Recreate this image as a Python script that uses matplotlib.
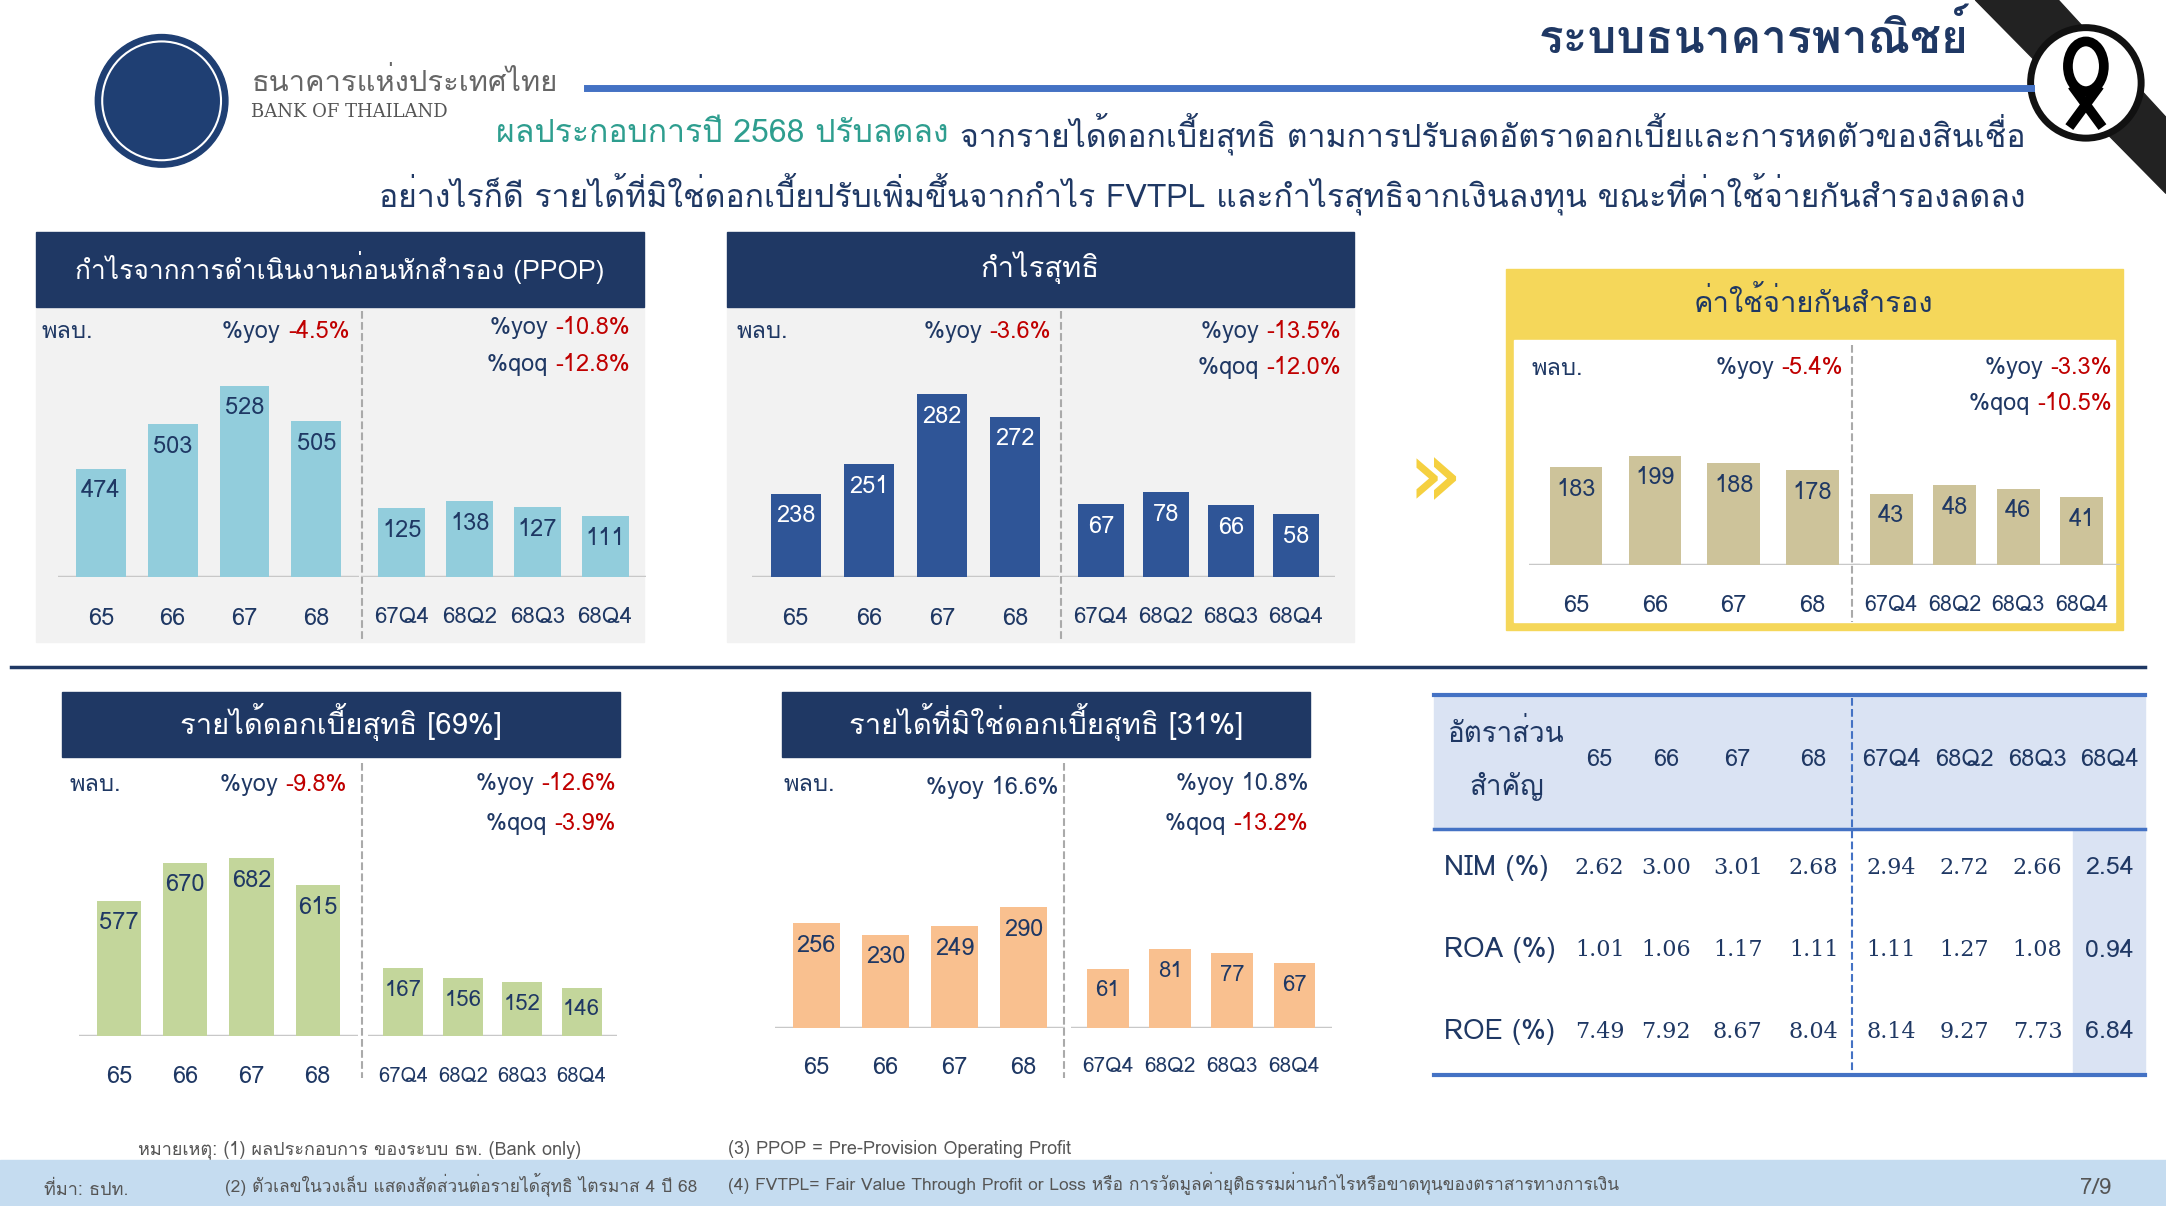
import matplotlib
matplotlib.use("Agg")
import matplotlib.pyplot as plt
from matplotlib import font_manager as fm
from matplotlib.patches import Rectangle, Circle, Polygon, Ellipse

thai = [f.name for f in fm.fontManager.ttflist if 'Thai' in f.name or 'Loma' in f.name or 'Garuda' in f.name or 'Sarabun' in f.name]
fams = (thai[:1] if thai else []) + ['Noto Sans', 'DejaVu Sans']
plt.rcParams['font.family'] = fams

W, H = 1568, 873
NAVY = '#1f3864'
RED = '#c00000'

# ---------------- data ----------------
years = ['65', '66', '67', '68']
quarters = ['67Q4', '68Q2', '68Q3', '68Q4']
ppop_y = [474, 503, 528, 505]; ppop_q = [125, 138, 127, 111]
np_y = [238, 251, 282, 272]; np_q = [67, 78, 66, 58]
prov_y = [183, 199, 188, 178]; prov_q = [43, 48, 46, 41]
nii_y = [577, 670, 682, 615]; nii_q = [167, 156, 152, 146]
non_y = [256, 230, 249, 290]; non_q = [61, 81, 77, 67]
ratio_names = ['NIM (%)', 'ROA (%)', 'ROE (%)']
ratio_cols = years + quarters
nim = [2.62, 3.00, 3.01, 2.68, 2.94, 2.72, 2.66, 2.54]
roa = [1.01, 1.06, 1.17, 1.11, 1.11, 1.27, 1.08, 0.94]
roe = [7.49, 7.92, 8.67, 8.04, 8.14, 9.27, 7.73, 6.84]

fig = plt.figure(figsize=(21.66, 12.06), dpi=100)
bg = fig.add_axes([0, 0, 1, 1]); bg.set_xlim(0, W); bg.set_ylim(H, 0); bg.axis('off')

def rect(x, y, w, h, **kw):
    bg.add_patch(Rectangle((x, y), w, h, **kw))

def txt(x, y, s, **kw):
    kw.setdefault('color', NAVY); kw.setdefault('va', 'center')
    bg.text(x, y, s, **kw)

def pxax(x, y, w, h):
    a = fig.add_axes([x / W, 1 - (y + h) / H, w / W, h / H])
    a.axis('off'); a.patch.set_alpha(0)
    return a

def bars(x0, spacing, width_px, base_y, top_y, vals, cats, lo, scale, color, tcolor, lab_y, fs=17, lfs=17):
    n = len(vals)
    w = spacing * (n + 0.2)
    a = pxax(x0 - 0.6 * spacing, top_y, w, base_y - top_y)
    a.set_xlim(-0.6, n - 0.4)
    hi = lo + (base_y - top_y) / scale
    a.set_ylim(lo, hi)
    a.bar(range(n), [v - lo for v in vals], bottom=lo, width=width_px / spacing, color=color, zorder=2)
    a.axhline(lo, color='#c8c8c8', lw=2.5, zorder=1)
    for i, v in enumerate(vals):
        a.text(i, v - 16 / scale, str(v), ha='center', va='center', color=tcolor, fontsize=fs)
    for i, c in enumerate(cats):
        txt(x0 + i * spacing, lab_y, c, ha='center', fontsize=lfs)

def rich(xr, y, parts, fs):
    r = fig.canvas.get_renderer()
    x = xr
    for s, c in reversed(parts):
        t = bg.text(x, y, s, ha='right', va='center', color=c, fontsize=fs)
        bb = t.get_window_extent(r)
        x -= bb.width * W / fig.bbox.width

def yoy2(xr, y, label, val):
    rich(xr, y, [(label + ' ', NAVY), (val, RED)], 17)

# ---------------- top ----------------
bg.add_patch(Circle((117, 73), 48, color='#1f3f73'))
bg.add_patch(Circle((117, 73), 43, fill=False, ec='white', lw=1.5))
txt(182, 60, 'ธนาคารแห่งประเทศไทย', fontsize=21, color='#666666')
txt(182, 81, 'BANK OF THAILAND', fontsize=13, color='#555555', family='DejaVu Serif')
bg.plot([425, 1470], [64, 64], color='#4472c4', lw=5)
txt(1425, 26, 'ระบบธนาคารพาณิชย์', ha='right', fontsize=33, fontweight='bold')
bg.add_patch(Polygon([[1430, 0], [1490, 0], [1568, 85], [1568, 140]], color='#222222'))
bg.add_patch(Circle((1510, 60), 40, color='white', ec='#111111', lw=5))
bg.add_patch(Ellipse((1510, 48), 26, 36, fill=False, ec='black', lw=7))
bg.plot([1500, 1522], [62, 92], color='black', lw=7, solid_capstyle='butt')
bg.plot([1520, 1498], [62, 92], color='black', lw=7, solid_capstyle='butt')
rich(1466, 97, [('ผลประกอบการปี 2568 ปรับลดลง ', '#2e9e8f'), ('จากรายได้ดอกเบี้ยสุทธิ ตามการปรับลดอัตราดอกเบี้ยและการหดตัวของสินเชื่อ', NAVY)], 23)
txt(1466, 140, 'อย่างไรก็ดี รายได้ที่มิใช่ดอกเบี้ยปรับเพิ่มขึ้นจากกำไร FVTPL และกำไรสุทธิจากเงินลงทุน ขณะที่ค่าใช้จ่ายกันสำรองลดลง', ha='right', fontsize=23)

# ---------------- panel 1: PPOP ----------------
rect(26, 222, 440, 243, color='#f2f2f2')
rect(26, 168, 440, 54, color=NAVY)
txt(246, 194, 'กำไรจากการดำเนินงานก่อนหักสำรอง (PPOP)', ha='center', color='white', fontsize=19)
bg.plot([262, 262], [225, 465], color='#aaaaaa', ls='--', lw=1.5)
txt(30, 240, 'พลบ.', fontsize=17)
yoy2(253, 240, '%yoy', '-4.5%')
yoy2(456, 237, '%yoy', '-10.8%')
yoy2(456, 264, '%qoq', '-12.8%')
bars(73, 52, 36, 418, 260, ppop_y, years, 403, 1.11, '#92cddc', NAVY, 448)
bars(291, 49, 34, 418, 260, ppop_q, quarters, 0, 0.40, '#92cddc', NAVY, 447, lfs=16)

# ---------------- panel 2: net profit ----------------
rect(526, 222, 454, 243, color='#f2f2f2')
rect(526, 168, 454, 54, color=NAVY)
txt(753, 194, 'กำไรสุทธิ', ha='center', color='white', fontsize=21)
bg.plot([768, 768], [225, 465], color='#aaaaaa', ls='--', lw=1.5)
txt(533, 240, 'พลบ.', fontsize=17)
yoy2(761, 240, '%yoy', '-3.6%')
yoy2(971, 240, '%yoy', '-13.5%')
yoy2(971, 266, '%qoq', '-12.0%')
bars(576, 53, 36, 418, 260, np_y, years, 201, 1.64, '#2f5597', 'white', 448)
bars(797, 47, 33, 418, 260, np_q, quarters, 0, 0.79, '#2f5597', 'white', 447, lfs=16)

txt(1040, 350, '»', ha='center', fontsize=60, color='#f5d040', fontweight='bold')

# ---------------- panel 3: provision ----------------
rect(1090, 195, 447, 261, color='#f5d75a')
rect(1096, 246, 435, 204, color='white')
txt(1313, 219, 'ค่าใช้จ่ายกันสำรอง', ha='center', fontsize=21)
bg.plot([1341, 1341], [250, 450], color='#aaaaaa', ls='--', lw=1.5)
txt(1109, 267, 'พลบ.', fontsize=17)
yoy2(1334, 266, '%yoy', '-5.4%')
yoy2(1529, 266, '%yoy', '-3.3%')
yoy2(1529, 292, '%qoq', '-10.5%')
bars(1141, 57, 38, 409, 290, prov_y, years, 41, 0.5, '#cdc39a', NAVY, 438)
bars(1369, 46, 31, 409, 290, prov_q, quarters, 0, 1.2, '#cdc39a', NAVY, 438, lfs=15.5)

bg.plot([8, 1553], [483, 483], color=NAVY, lw=2.5)

# ---------------- panel 4: NII ----------------
rect(45, 501, 404, 47, color=NAVY)
txt(247, 523, 'รายได้ดอกเบี้ยสุทธิ [69%]', ha='center', color='white', fontsize=21)
bg.plot([262, 262], [552, 780], color='#aaaaaa', ls='--', lw=1.5)
txt(50, 568, 'พลบ.', fontsize=17)
yoy2(251, 568, '%yoy', '-9.8%')
yoy2(446, 567, '%yoy', '-12.6%')
yoy2(446, 596, '%qoq', '-3.9%')
bars(86, 48, 32, 750, 600, nii_y, years, 245, 0.295, '#c3d69b', NAVY, 779)
bars(292, 43, 29, 750, 600, nii_q, quarters, 93.5, 0.667, '#c3d69b', NAVY, 779, fs=16, lfs=14.5)

# ---------------- panel 5: non-NII ----------------
rect(566, 501, 382, 47, color=NAVY)
txt(757, 523, 'รายได้ที่มิใช่ดอกเบี้ยสุทธิ [31%]', ha='center', color='white', fontsize=21)
bg.plot([770, 770], [552, 780], color='#aaaaaa', ls='--', lw=1.5)
txt(567, 568, 'พลบ.', fontsize=17)
txt(766, 570, '%yoy 16.6%', ha='right', fontsize=17)
txt(947, 567, '%yoy 10.8%', ha='right', fontsize=17)
yoy2(947, 596, '%qoq', '-13.2%')
bars(591, 50, 34, 744, 600, non_y, years, 26, 0.33, '#f9c08f', NAVY, 773)
bars(802, 45, 30, 744, 600, non_q, quarters, 0, 0.7, '#f9c08f', NAVY, 772, fs=16, lfs=15)

# ---------------- table ----------------
rect(1038, 503, 515, 97, color='#dae3f3')
rect(1501, 600, 52, 178, color='#dae3f3')
bg.plot([1038, 1553], [503, 503], color='#4472c4', lw=3)
bg.plot([1038, 1553], [600, 600], color='#4472c4', lw=2.5)
bg.plot([1038, 1553], [778, 778], color='#4472c4', lw=3)
bg.plot([1341, 1341], [505, 778], color='#4472c4', ls='--', lw=1.5)
txt(1048, 531, 'อัตราส่วน', fontsize=20)
txt(1064, 569, 'สำคัญ', fontsize=20)
colx = [1158, 1206, 1258, 1313, 1369, 1422, 1475, 1527]
for cx, c in zip(colx, ratio_cols):
    txt(cx, 550, c, ha='center', fontsize=17)
for ry, name, vals in zip([628, 688, 747], ratio_names, [nim, roa, roe]):
    txt(1045, ry, name, fontsize=20)
    for j, (cx, v) in enumerate(zip(colx, vals)):
        txt(cx, ry, f'{v:.2f}', ha='center', fontsize=16 if j < 7 else 18,
            family='DejaVu Serif' if j < 7 else None)

# ---------------- footer ----------------
rect(0, 840, W, 33, color='#c5dcf0')
txt(100, 832, 'หมายเหตุ: (1) ผลประกอบการ ของระบบ ธพ. (Bank only)', fontsize=13, color='#555555')
txt(527, 832, '(3) PPOP = Pre-Provision Operating Profit', fontsize=13, color='#555555')
txt(32, 861, 'ที่มา: ธปท.', fontsize=13, color='#555555')
txt(163, 857, '(2) ตัวเลขในวงเล็บ แสดงสัดส่วนต่อรายได้สุทธิ ไตรมาส 4 ปี 68', fontsize=12.5, color='#555555')
txt(527, 857, '(4) FVTPL= Fair Value Through Profit or Loss หรือ การวัดมูลค่ายุติธรรมผ่านกำไรหรือขาดทุนของตราสารทางการเงิน', fontsize=12.5, color='#555555')
txt(1528, 860, '7/9', ha='right', fontsize=16, color='#555555')

fig.savefig('out.png', dpi=100)
